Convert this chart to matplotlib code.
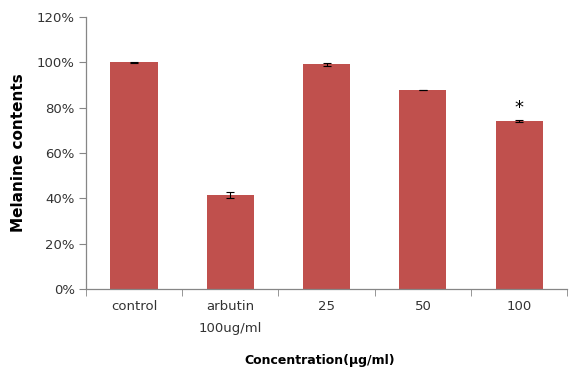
import numpy as np
import matplotlib
matplotlib.use('Agg')
import matplotlib.pyplot as plt
from matplotlib.ticker import FuncFormatter, FixedLocator

# Data
categories = ['control', 'arbutin\n100ug/ml', '25', '50', '100']
melanin = [100.0, 41.6, 99.1, 87.8, 74.0]
errors = [0.3, 1.2, 0.6, 0.2, 0.5]
significant = [False, False, False, False, True]

bar_color = '#C0504D'
axis_color = '#868686'

fig = plt.figure(figsize=(5.69, 3.77), dpi=100)
ax = fig.add_axes([0.151, 0.233, 0.846, 0.722])

x = np.arange(len(categories))
ax.bar(x, melanin, width=0.49, color=bar_color, yerr=errors,
       error_kw=dict(ecolor='black', elinewidth=0.8, capsize=3, capthick=0.8))

for xi, val, err, sig in zip(x, melanin, errors, significant):
    if sig:
        ax.text(xi, val + err + 1.5, '*', ha='center', va='bottom', fontsize=13)

ax.set_xlim(-0.5, len(categories) - 0.5)
ax.set_ylim(0, 120)
ax.set_yticks(np.arange(0, 121, 20))
ax.yaxis.set_major_formatter(FuncFormatter(lambda v, p: '%d%%' % v))

ax.set_xticks(x)
ax.set_xticklabels(categories, linespacing=1.9)
ax.xaxis.set_minor_locator(FixedLocator(np.arange(-0.5, len(categories), 1.0)))
ax.tick_params(axis='x', which='major', length=0, pad=8)
ax.tick_params(axis='x', which='minor', length=5, color=axis_color, direction='out')
ax.tick_params(axis='y', length=5, color=axis_color, direction='out', pad=3)
ax.tick_params(labelsize=9.5, labelcolor='#333333')

for side in ['top', 'right']:
    ax.spines[side].set_visible(False)
for side in ['left', 'bottom']:
    ax.spines[side].set_color(axis_color)
    ax.spines[side].set_linewidth(0.9)

ax.set_ylabel('Melanine contents', fontsize=11, fontweight='bold', labelpad=8)
ax.set_xlabel('Concentration(μg/ml)', fontsize=9, fontweight='bold')
ax.xaxis.set_label_coords(0.486, -0.24)

fig.savefig('out.png', dpi=100)
